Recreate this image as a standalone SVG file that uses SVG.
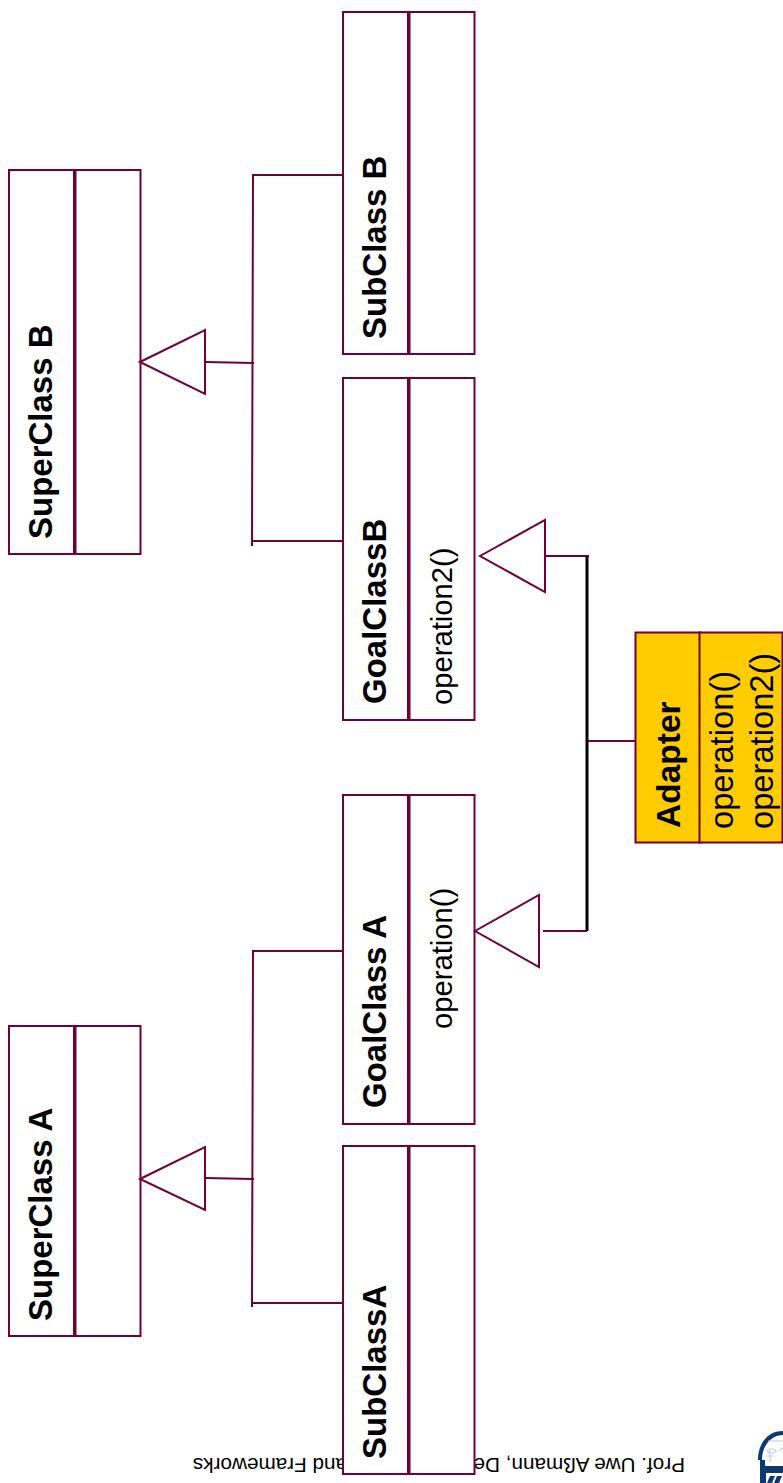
<svg xmlns="http://www.w3.org/2000/svg" width="783" height="1483" viewBox="0 0 783 1483">
<style>
.box{fill:#fff;stroke:#6f0038;stroke-width:2}
.gold{fill:#ffcc00}
.tri{fill:#fff;stroke:#6f0038;stroke-width:2}
.ln{fill:none;stroke:#6f0038;stroke-width:2}
.bk{fill:none;stroke:#000;stroke-width:3}
text{font-family:"Liberation Sans",Arial,sans-serif;fill:#000}
.b{font-weight:bold;font-size:33px}
.ad{font-weight:bold;font-size:33.500px}
.r{font-size:29.200px}
.a{font-size:32.700px}
.f{font-size:20.700px}
</style>
<text class="f" transform="translate(685 1458) rotate(180)" id="footer">Prof. Uwe Aßmann, Design Patterns and Frameworks</text>
<g id="logo">
<path d="M783 1431C768 1431 758 1443 758 1460L762 1460C762 1446 771 1435 783 1435Z" fill="#0d3a6e"/>
<path d="M768 1441H783M767 1451C769 1448 774 1448 776 1451C774 1454 769 1454 767 1451ZM779 1451C781 1448 783 1448 783 1448M766 1456H774M770 1450V1462" stroke="#c8c8ee" stroke-width="1.200" fill="none"/>
<path d="M760 1460H765V1466H783V1473H766V1483H760Z" fill="#0d3a6e"/>
<path d="M770 1476L767 1483H772L775 1476ZM777 1476L774 1483H779L782 1476Z" fill="#0d3a6e"/>
</g>
<g id="connectors">
<path class="ln" d="M342 175H253L252 546M342 541H252M205 362L254 363"/>
<path class="ln" d="M342 951H253L252 1307M342 1303H252M205 1178L254 1179"/>
<path class="ln" d="M545 556H589M543 931H587M587 741H635"/>
<path class="bk" d="M587 556V931"/>
</g>
<g id="superclass-b">
<rect class="box" x="9" y="170" width="65" height="384"/><rect class="box" x="75.500" y="170" width="65" height="384"/>
<text class="b" transform="translate(52 539) rotate(-90)">SuperClass B</text>
</g>
<g id="superclass-a">
<rect class="box" x="9" y="1026" width="65" height="310"/><rect class="box" x="75.500" y="1026" width="65" height="310"/>
<text class="b" transform="translate(52 1321) rotate(-90)">SuperClass A</text>
</g>
<g id="subclass-b">
<rect class="box" x="343" y="12" width="65" height="342"/><rect class="box" x="409.500" y="12" width="65" height="342"/>
<text class="b" transform="translate(386 339) rotate(-90)">SubClass B</text>
</g>
<g id="goalclass-b">
<rect class="box" x="343" y="378" width="65" height="342"/><rect class="box" x="409.500" y="378" width="65" height="342"/>
<text class="b" transform="translate(386 704) rotate(-90)">GoalClassB</text>
<text class="r" transform="translate(452 705) rotate(-90)">operation2()</text>
</g>
<g id="goalclass-a">
<rect class="box" x="343" y="795" width="65" height="329"/><rect class="box" x="409.500" y="795" width="65" height="329"/>
<text class="b" transform="translate(386 1108) rotate(-90)">GoalClass A</text>
<text class="r" transform="translate(452 1029) rotate(-90)">operation()</text>
</g>
<g id="subclass-a">
<rect class="box" x="343" y="1146" width="65" height="328"/><rect class="box" x="409.500" y="1146" width="65" height="328"/>
<text class="b" transform="translate(386 1459) rotate(-90)">SubClassA</text>
</g>
<g id="adapter">
<rect class="box gold" x="635.500" y="632.500" width="65" height="210"/><rect class="box gold" x="699.500" y="632.500" width="83" height="210"/>
<text class="ad" transform="translate(680 828) rotate(-90)">Adapter</text>
<text class="a" transform="translate(733 829) rotate(-90)">operation()</text>
<text class="a" transform="translate(773 829) rotate(-90)">operation2()</text>
</g>
<g id="triangles">
<path class="tri" d="M140 362L205 330V394Z"/>
<path class="tri" d="M140 1179L205 1147V1210Z"/>
<path class="tri" d="M480 556L545 520V592Z"/>
<path class="tri" d="M475 931L539 895V967Z"/>
</g>
</svg>
